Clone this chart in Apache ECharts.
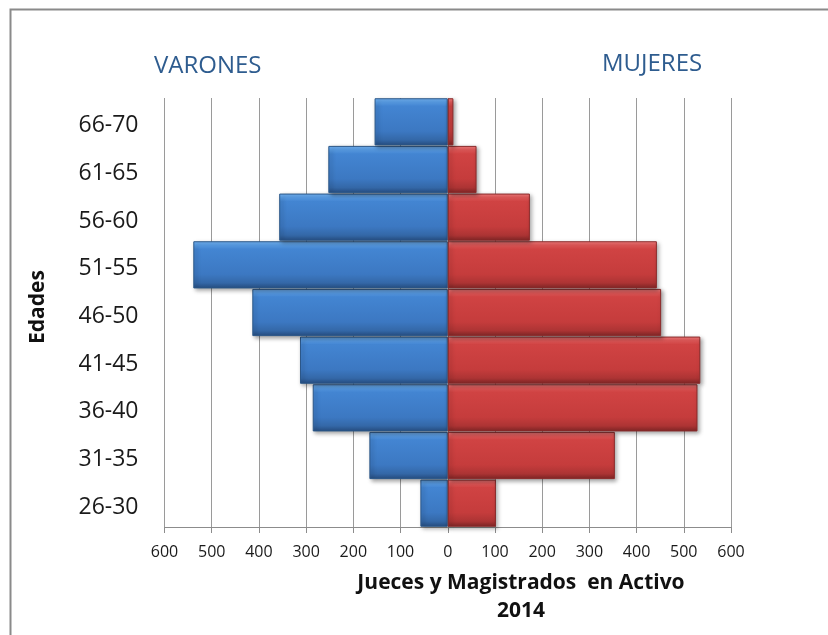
<!DOCTYPE html>
<html>
<head>
<meta charset="utf-8">
<script src="https://cdn.jsdelivr.net/npm/echarts@6/dist/echarts.min.js"></script>
<style>html,body{margin:0;padding:0;background:#fff}#c{width:828px;height:635px}</style>
</head>
<body>
<div id="c"></div>
<script>
var categories = ['26-30','31-35','36-40','41-45','46-50','51-55','56-60','61-65','66-70'];
var varones = [58, 166, 286, 313, 414, 539, 357, 253, 155];
var mujeres = [102, 354, 529, 535, 452, 443, 174, 61, 12];
var xTicks = [-600,-500,-400,-300,-200,-100,0,100,200,300,400,500,600];

var FONT = '"Open Sans", "Liberation Sans", sans-serif';

function grad(stops){
  return new echarts.graphic.LinearGradient(0,0,0,1, stops.map(function(s){return {offset:s[0], color:s[1]};}));
}
var blueFill = grad([[0,'#74b4f4'],[0.08,'#5a9fe8'],[0.17,'#4385d2'],[0.7,'#3c78c2'],[0.88,'#3468a8'],[1,'#264d80']]);
var redFill = grad([[0,'#f78080'],[0.08,'#e35a5a'],[0.17,'#d04343'],[0.7,'#c53c3c'],[0.88,'#ad3434'],[1,'#7e2525']]);

var chart = echarts.init(document.getElementById('c'), null, {renderer:'canvas'});
chart.setOption({
  animation: false,
  backgroundColor: '#ffffff',
  grid: {left: 164.5, right: 97, top: 98, bottom: 108, containLabel: false},
  xAxis: {
    type: 'value', min: -600, max: 600, interval: 100,
    axisLine: {show: true, onZero: false, lineStyle: {color: '#8c8c8c', width: 1}},
    axisTick: {show: true, inside: false, length: 6, lineStyle: {color: '#8c8c8c'}},
    splitLine: {show: true, lineStyle: {color: '#9a9a9a', width: 1}},
    axisLabel: {
      color: '#1a1a1a', fontFamily: FONT, fontSize: 16, margin: 17,
      formatter: function(v){ return String(Math.abs(v)); }
    }
  },
  yAxis: {
    type: 'category', data: categories,
    axisLine: {show: false}, axisTick: {show: false}, splitLine: {show: false},
    axisLabel: {color: '#1a1a1a', fontFamily: FONT, fontSize: 23, margin: 26,
      verticalAlign: 'top', lineHeight: 30, padding: [-11,0,0,0]}
  },
  series: [
    {
      name: 'Varones', type: 'bar', stack: 'p', barCategoryGap: '1%',
      data: varones.map(function(v){ return -v; }),
      itemStyle: {color: blueFill, borderColor: '#2b5788', borderWidth: 1,
        shadowBlur: 4, shadowOffsetX: 2, shadowOffsetY: 2, shadowColor: 'rgba(0,0,0,0.35)'}
    },
    {
      name: 'Mujeres', type: 'bar', stack: 'p', barCategoryGap: '1%',
      data: mujeres,
      itemStyle: {color: redFill, borderColor: '#8a2a2a', borderWidth: 1,
        shadowBlur: 4, shadowOffsetX: 2, shadowOffsetY: 2, shadowColor: 'rgba(0,0,0,0.35)'}
    }
  ],
  graphic: [
    {type: 'rect', left: 8, top: 7, z: -1, silent: true,
      shape: {width: 840, height: 660}, style: {fill: 'none', stroke: '#8a8a8a', lineWidth: 2}},
    {type: 'text', x: 154, y: 66, style: {text: 'VARONES', font: '24px ' + FONT, fill: '#2e5c8f', verticalAlign: 'middle'}},
    {type: 'text', x: 602, y: 64, style: {text: 'MUJERES', font: '24px ' + FONT, fill: '#2e5c8f', verticalAlign: 'middle'}},
    {type: 'text', x: 38, y: 307, rotation: Math.PI/2,
      style: {text: 'Edades', font: 'bold 21px ' + FONT, fill: '#111', align: 'center', verticalAlign: 'middle'}},
    {type: 'text', x: 521, y: 583,
      style: {text: 'Jueces y Magistrados  en Activo', font: 'bold 21px ' + FONT, fill: '#111', align: 'center', verticalAlign: 'middle'}},
    {type: 'text', x: 521, y: 611,
      style: {text: '2014', font: 'bold 21px ' + FONT, fill: '#111', align: 'center', verticalAlign: 'middle'}}
  ]
});
</script>
</body>
</html>
